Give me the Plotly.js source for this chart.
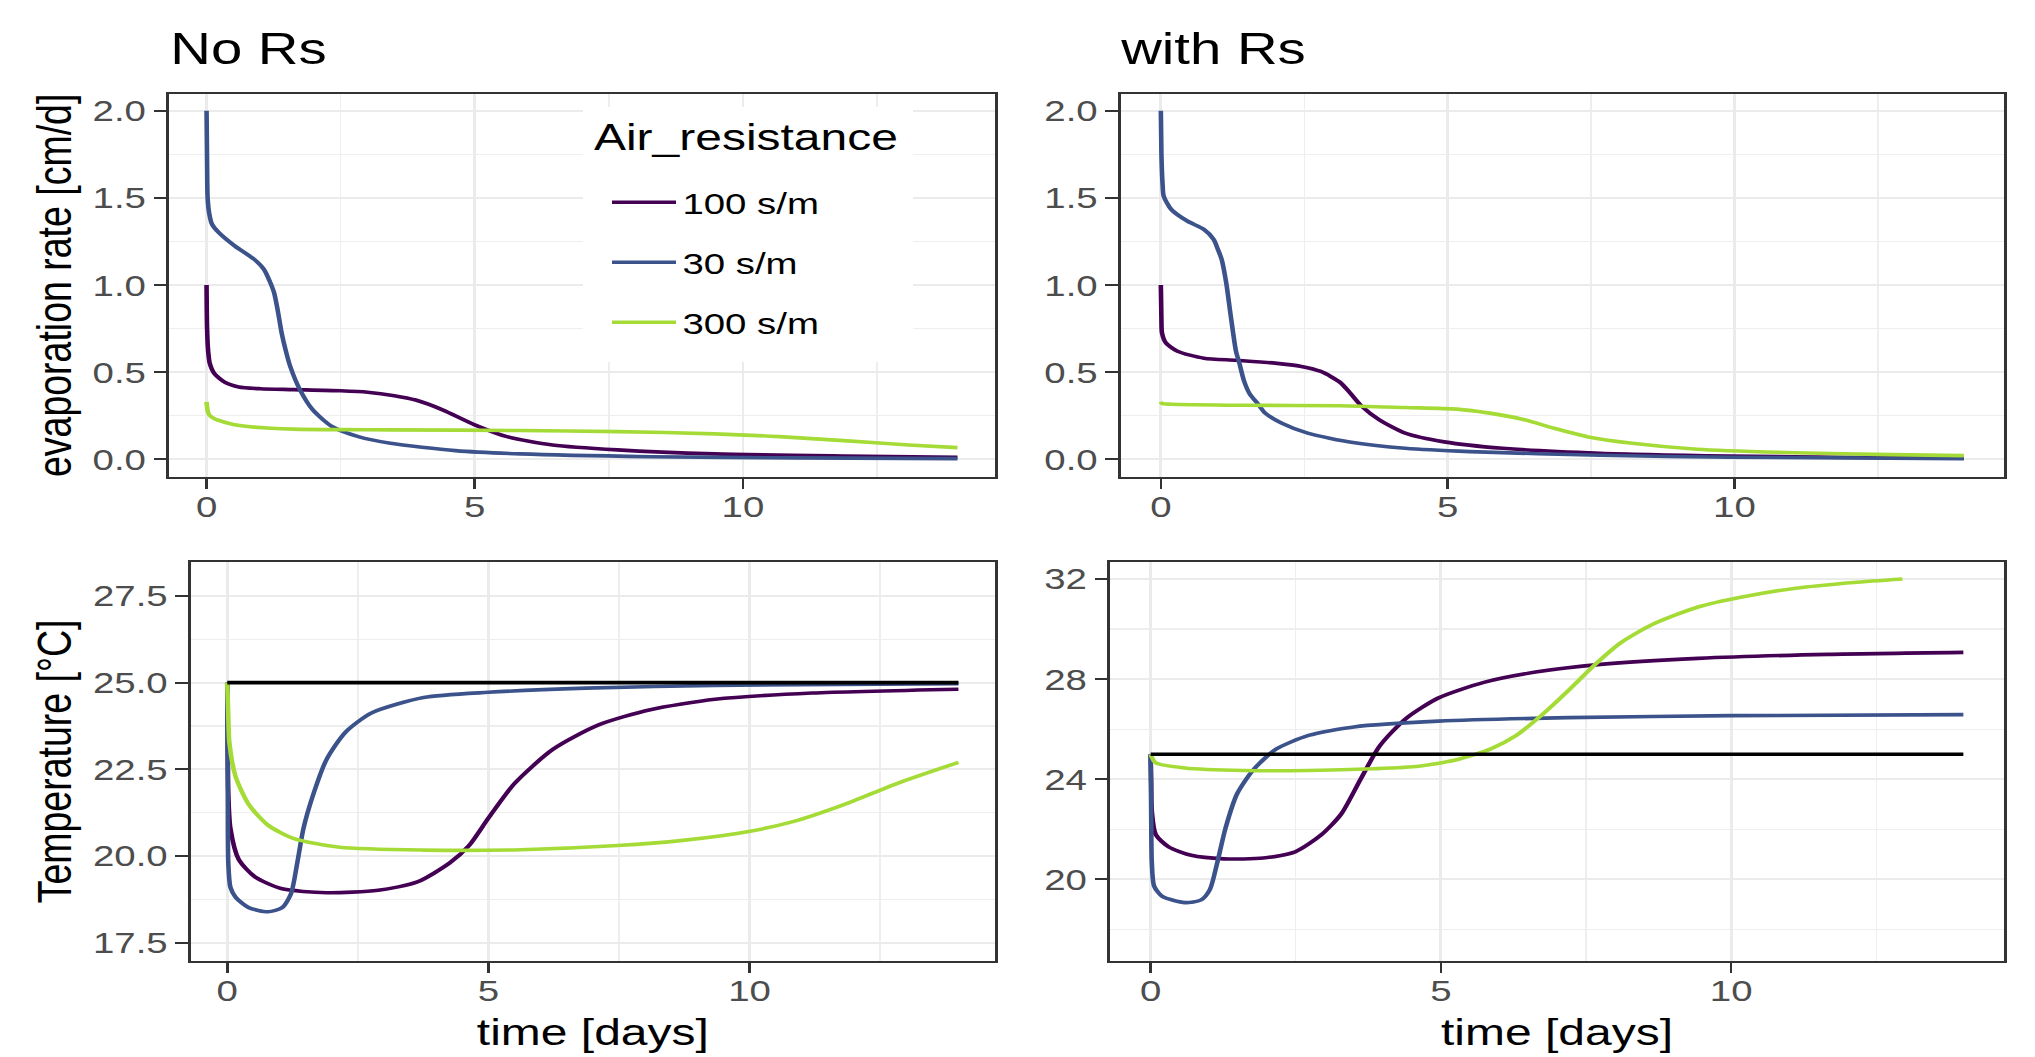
<!DOCTYPE html>
<html>
<head>
<meta charset="utf-8">
<script src="https://cdn.plot.ly/plotly-3.0.1.min.js"></script>
<style>
  html, body { margin: 0; padding: 0; background: #ffffff; overflow: hidden; }
  #chart { transform-origin: 0 0; }
</style>
</head>
<body>
<div id="chart"></div>
<script>
// ---------------- data ----------------
const seriesNames = ['100 s/m', '30 s/m', '300 s/m'];
const seriesColors = ['#440154', '#3B528B', '#A5DB36'];
const panelTitles = ['No Rs', 'with Rs'];
const legendTitle = 'Air_resistance';
const airTempTime = [0, 14];
const airTemp = [25, 25];

// Evaporation rate, no Rs
const evapNoRs_t100 = [0, 0.01, 0.03, 0.06, 0.15, 0.35, 0.6, 1.0, 1.62, 2.5, 3.0, 3.5, 3.9, 4.4, 5.0, 5.6, 6.45, 7.66, 9.47, 11.9, 14];
const evapNoRs_v100 = [1.0, 0.75, 0.62, 0.55, 0.49, 0.44, 0.415, 0.405, 0.40, 0.393, 0.385, 0.365, 0.34, 0.284, 0.198, 0.13, 0.082, 0.054, 0.031, 0.019, 0.012];
const evapNoRs_t30 = [0, 0.01, 0.02, 0.05, 0.1, 0.23, 0.53, 0.89, 1.07, 1.18, 1.26, 1.33, 1.40, 1.48, 1.56, 1.74, 1.98, 2.34, 2.83, 3.43, 4.64, 5.85, 8.26, 11, 14];
const evapNoRs_v30 = [2.0, 1.7, 1.5, 1.41, 1.35, 1.30, 1.223, 1.147, 1.09, 1.02, 0.955, 0.85, 0.725, 0.62, 0.533, 0.40, 0.284, 0.188, 0.13, 0.092, 0.05, 0.031, 0.015, 0.008, 0.004];
const evapNoRs_t300 = [0, 0.02, 0.05, 0.15, 0.29, 0.5, 0.77, 1.2, 1.62, 2.5, 3.43, 5.85, 7.66, 9.47, 10.68, 11.88, 13.09, 14];
const evapNoRs_v300 = [0.33, 0.28, 0.255, 0.232, 0.217, 0.2, 0.188, 0.178, 0.173, 0.17, 0.169, 0.165, 0.159, 0.146, 0.13, 0.107, 0.082, 0.067];

// Evaporation rate, with Rs
const evapRs_t100 = [0, 0.01, 0.02, 0.09, 0.29, 0.75, 1.31, 1.99, 2.45, 2.79, 3.13, 3.3, 3.5, 3.81, 4.26, 4.94, 5.96, 7.66, 9.92, 12.19, 14];
const evapRs_v100 = [1.0, 0.8, 0.725, 0.667, 0.62, 0.58, 0.568, 0.552, 0.533, 0.504, 0.44, 0.38, 0.305, 0.226, 0.15, 0.10, 0.063, 0.035, 0.019, 0.01, 0.006];
const evapRs_t30 = [0, 0.01, 0.03, 0.05, 0.18, 0.46, 0.75, 0.92, 1.0, 1.06, 1.14, 1.22, 1.31, 1.37, 1.45, 1.55, 1.70, 1.82, 2.11, 2.56, 3.35, 4.26, 5.39, 7.66, 9.92, 14];
const evapRs_v30 = [2.0, 1.75, 1.58, 1.51, 1.434, 1.367, 1.319, 1.262, 1.2, 1.147, 1.012, 0.82, 0.62, 0.55, 0.45, 0.375, 0.315, 0.265, 0.207, 0.15, 0.096, 0.063, 0.044, 0.023, 0.012, 0.004];
const evapRs_t300 = [0, 0.02, 0.18, 1.43, 3.13, 4.26, 5.16, 5.73, 6.30, 6.86, 7.43, 8.22, 9.35, 11.05, 12.75, 14];
const evapRs_v300 = [0.33, 0.32, 0.316, 0.31, 0.307, 0.297, 0.288, 0.265, 0.23, 0.178, 0.13, 0.092, 0.058, 0.038, 0.027, 0.021];

// Temperature, no Rs
const tempNoRs_t100 = [0, 0.01, 0.02, 0.06, 0.22, 0.53, 1.03, 1.90, 2.89, 3.64, 4.26, 4.63, 5.0, 5.50, 6.24, 7.11, 8.10, 9.34, 11.20, 14];
const tempNoRs_v100 = [25, 23, 21.79, 20.80, 19.90, 19.40, 19.06, 18.94, 19.01, 19.25, 19.80, 20.30, 21.09, 22.09, 23.08, 23.78, 24.22, 24.52, 24.70, 24.81];
const tempNoRs_t30 = [0, 0.01, 0.02, 0.06, 0.16, 0.41, 0.78, 1.05, 1.22, 1.34, 1.46, 1.65, 1.90, 2.27, 2.77, 3.76, 5.0, 6.86, 9.34, 14];
const tempNoRs_v30 = [25, 22, 19.8, 19.1, 18.81, 18.51, 18.39, 18.51, 18.91, 19.80, 20.80, 21.79, 22.78, 23.58, 24.13, 24.57, 24.72, 24.84, 24.92, 24.97];
const tempNoRs_t300 = [0, 0.02, 0.04, 0.16, 0.41, 0.78, 1.28, 2.15, 3.76, 5.62, 7.48, 8.72, 9.96, 10.83, 11.82, 12.82, 14];
const tempNoRs_v300 = [25, 24, 23.28, 22.29, 21.49, 20.89, 20.50, 20.25, 20.17, 20.18, 20.30, 20.45, 20.70, 20.99, 21.49, 22.09, 22.70];

// Temperature, with Rs
const tempRs_t100 = [0, 0.01, 0.02, 0.09, 0.31, 0.70, 1.26, 1.94, 2.49, 2.94, 3.28, 3.61, 3.95, 4.40, 4.96, 5.74, 6.63, 7.75, 9.43, 11.67, 14];
const tempRs_v100 = [25, 23.8, 22.74, 21.78, 21.30, 20.96, 20.82, 20.85, 21.10, 21.78, 22.60, 23.97, 25.34, 26.43, 27.25, 27.87, 28.28, 28.59, 28.83, 28.99, 29.07];
const tempRs_t30 = [0, 0.01, 0.02, 0.06, 0.20, 0.59, 0.87, 1.02, 1.15, 1.29, 1.49, 1.77, 2.16, 2.72, 3.50, 4.96, 7.19, 9.99, 14];
const tempRs_v30 = [25, 22.5, 20.69, 19.73, 19.32, 19.07, 19.18, 19.59, 20.69, 22.05, 23.42, 24.38, 25.20, 25.75, 26.09, 26.32, 26.46, 26.54, 26.58];
const tempRs_t300 = [0, 0.09, 0.59, 1.60, 2.72, 3.84, 4.62, 5.29, 5.85, 6.30, 6.74, 7.19, 7.64, 8.09, 8.65, 9.43, 10.21, 11.11, 12.11, 12.95];
const tempRs_v300 = [25, 24.65, 24.45, 24.35, 24.35, 24.42, 24.52, 24.79, 25.20, 25.75, 26.57, 27.53, 28.55, 29.44, 30.19, 30.88, 31.29, 31.63, 31.86, 32.0];

// ---------------- page geometry ----------------
const W = 2035, H = 1057;
const STRETCH = 1.28;             // the reference is horizontally stretched
const W0 = Math.round(W / STRETCH);
const FONT = 'Liberation Sans, Arial, Helvetica, sans-serif';

const panels = [
  {xa: 'x',  ya: 'y',  t: [evapNoRs_t100, evapNoRs_t30, evapNoRs_t300], v: [evapNoRs_v100, evapNoRs_v30, evapNoRs_v300], air: false},
  {xa: 'x2', ya: 'y2', t: [evapRs_t100, evapRs_t30, evapRs_t300], v: [evapRs_v100, evapRs_v30, evapRs_v300], air: false},
  {xa: 'x3', ya: 'y3', t: [tempNoRs_t100, tempNoRs_t30, tempNoRs_t300], v: [tempNoRs_v100, tempNoRs_v30, tempNoRs_v300], air: true},
  {xa: 'x4', ya: 'y4', t: [tempRs_t100, tempRs_t30, tempRs_t300], v: [tempRs_v100, tempRs_v30, tempRs_v300], air: true}
];

const traces = [];
panels.forEach((p, pi) => {
  for (let k = 0; k < seriesNames.length; k++) {
    traces.push({
      type: 'scatter', mode: 'lines',
      x: p.t[k], y: p.v[k], xaxis: p.xa, yaxis: p.ya,
      name: seriesNames[k], legendgroup: 'g' + k,
      showlegend: pi === 0,
      line: {color: seriesColors[k], width: 3.6, shape: 'spline', smoothing: 0.7},
      hoverinfo: 'skip'
    });
  }
  if (p.air) {
    traces.push({
      type: 'scatter', mode: 'lines', x: airTempTime, y: airTemp,
      xaxis: p.xa, yaxis: p.ya, showlegend: false,
      line: {color: '#000000', width: 3.6}, hoverinfo: 'skip'
    });
  }
});

const minorGrid = d => ({dtick: d, showgrid: true, gridcolor: '#EEEEEE', gridwidth: 1.1, ticks: ''});
function ax(extra) {
  return Object.assign({
    showline: true, mirror: true, linecolor: '#333333', linewidth: 2,
    ticks: 'outside', ticklen: 10, tickwidth: 2, tickcolor: '#333333',
    showgrid: true, gridcolor: '#EBEBEB', gridwidth: 2.2,
    zeroline: false, fixedrange: true,
    tickfont: {family: FONT, size: 30, color: '#4D4D4D'}
  }, extra);
}

const fx = px => px / W;
const fy = py => 1 - py / H;
const topY = [fy(476.7), fy(94)];
const botY = [fy(960.7), fy(562.3)];
const titleFont = {family: FONT, size: 37.5, color: '#000000'};
const xTitle = {text: 'time [days]', font: titleFont, standoff: 13};
const xRange = [-0.7, 14.7];
const evapRange = [-0.0998, 2.0958];

// legend background box: pixel box converted to the first panel's axis units
const boxPx = {l: 583, r: 913, t: 107, b: 362};
const tlPx = {l: 169, r: 995, t: 94, b: 476.7};
const boxX = px => xRange[0] + (px - tlPx.l) / (tlPx.r - tlPx.l) * (xRange[1] - xRange[0]);
const boxY = py => evapRange[1] - (py - tlPx.t) / (tlPx.b - tlPx.t) * (evapRange[1] - evapRange[0]);

const layout = {
  width: W0, height: H, autosize: false,
  margin: {l: 0, r: 0, t: 0, b: 0, pad: 0},
  paper_bgcolor: '#ffffff', plot_bgcolor: '#ffffff',
  font: {family: FONT, color: '#000000'},
  xaxis:  ax({domain: [fx(169), fx(995)], anchor: 'y', range: xRange, tick0: 0, dtick: 5, ticklabelstandoff: -8, minor: minorGrid(2.5)}),
  yaxis:  ax({domain: topY, anchor: 'x', range: evapRange, tick0: 0, dtick: 0.5, tickformat: '.1f', minor: minorGrid(0.25),
              title: {text: 'evaporation rate [cm/d]', font: titleFont, standoff: 5}}),
  xaxis2: ax({domain: [fx(1120.7), fx(2004)], anchor: 'y2', range: xRange, tick0: 0, dtick: 5, ticklabelstandoff: -8, minor: minorGrid(2.5)}),
  yaxis2: ax({domain: topY, anchor: 'x2', range: evapRange, tick0: 0, dtick: 0.5, tickformat: '.1f', minor: minorGrid(0.25)}),
  xaxis3: ax({domain: [fx(190.7), fx(995)], anchor: 'y3', range: xRange, tick0: 0, dtick: 5, ticklabelstandoff: -8, minor: minorGrid(2.5), title: xTitle}),
  yaxis3: ax({domain: botY, anchor: 'x3', range: [16.98, 28.47], tick0: 0, dtick: 2.5, tickformat: '.1f', minor: minorGrid(1.25),
              title: {text: 'Temperature [°C]', font: titleFont, standoff: 5}}),
  xaxis4: ax({domain: [fx(1110), fx(2004)], anchor: 'y4', range: xRange, tick0: 0, dtick: 5, ticklabelstandoff: -8, minor: minorGrid(2.5), title: xTitle}),
  yaxis4: ax({domain: botY, anchor: 'x4', range: [16.75, 32.667], tick0: 0, dtick: 4, minor: minorGrid(2)}),
  legend: {
    x: fx(605.6), y: fy(176.3), xanchor: 'left', yanchor: 'top',
    bgcolor: '#FFFFFF', borderwidth: 0,
    font: {family: FONT, size: 30, color: '#000000'},
    traceorder: 'grouped', tracegroupgap: 18, itemwidth: 50
  },
  shapes: [
    {type: 'rect', xref: 'x', yref: 'y',
     x0: boxX(boxPx.l), x1: boxX(boxPx.r), y0: boxY(boxPx.b), y1: boxY(boxPx.t),
     fillcolor: '#FFFFFF', line: {width: 0}, layer: 'between'}
  ],
  annotations: [
    {text: panelTitles[0], xref: 'paper', yref: 'paper', x: fx(167.5), y: fy(48.5), xanchor: 'left', yanchor: 'middle', showarrow: false, font: {family: FONT, size: 44, color: '#000000'}},
    {text: panelTitles[1], xref: 'paper', yref: 'paper', x: fx(1117.5), y: fy(48.5), xanchor: 'left', yanchor: 'middle', showarrow: false, font: {family: FONT, size: 44, color: '#000000'}},
    {text: legendTitle, xref: 'paper', yref: 'paper', x: fx(591.7), y: fy(137.5), xanchor: 'left', yanchor: 'middle', showarrow: false, font: titleFont}
  ],
  showlegend: true
};

const el = document.getElementById('chart');
el.style.width = W0 + 'px';
el.style.height = H + 'px';
el.style.transform = 'scaleX(' + (W / W0) + ')';
Plotly.newPlot(el, traces, layout, {staticPlot: true, displayModeBar: false});
</script>
</body>
</html>
